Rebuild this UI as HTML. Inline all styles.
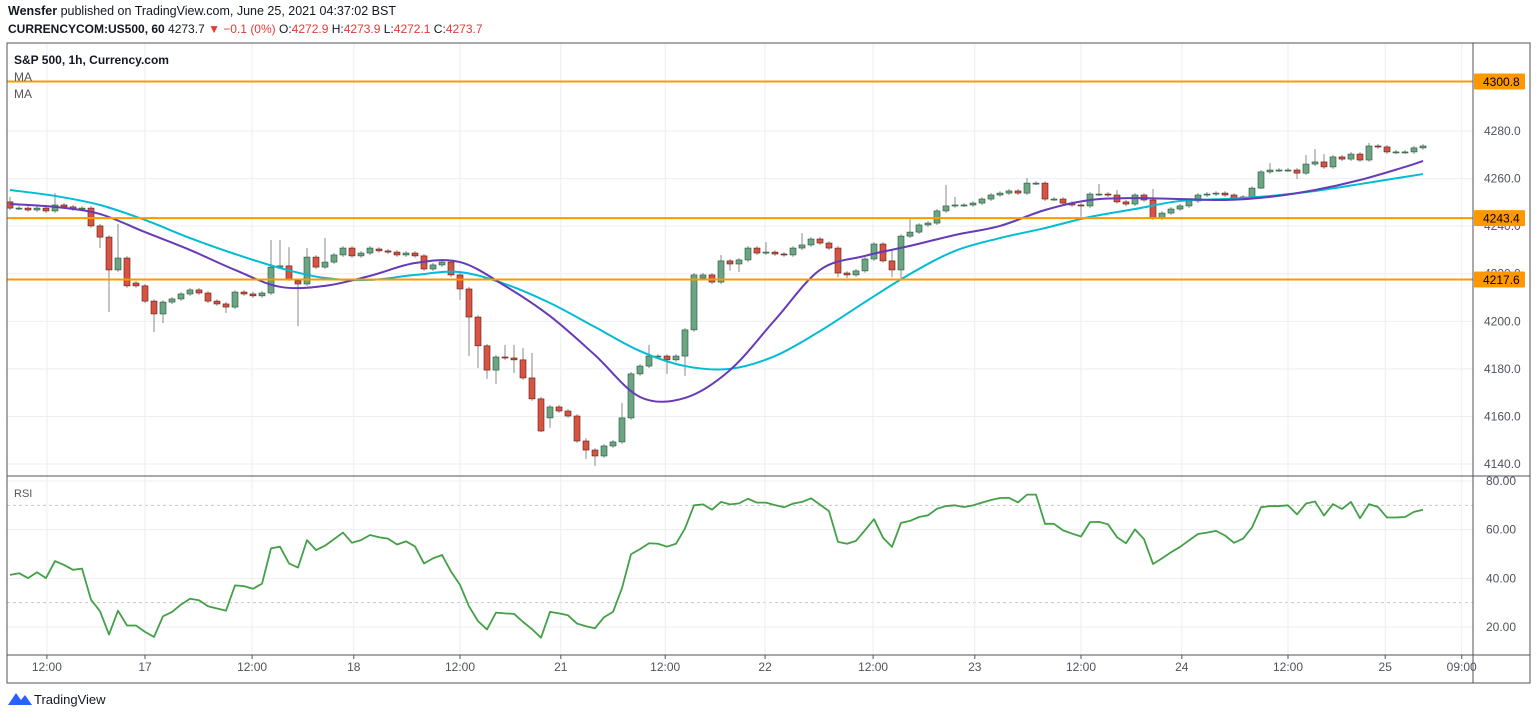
<!DOCTYPE html>
<html><head><meta charset="utf-8"><style>
body{margin:0;background:#fff;width:1536px;height:717px;overflow:hidden;font-family:"Liberation Sans",sans-serif}
svg text{font-family:"Liberation Sans",sans-serif}
</style></head><body>
<svg id="c" width="1536" height="717" viewBox="0 0 1536 717" xmlns="http://www.w3.org/2000/svg">
<text x="8" y="15" font-size="12.5" fill="#131722"><tspan font-weight="bold">Wensfer</tspan> published on TradingView.com, June 25, 2021 04:37:02 BST</text>
<text x="8" y="33" font-size="12" fill="#131722"><tspan font-weight="bold">CURRENCYCOM:US500, 60</tspan> 4273.7 <tspan fill="#e53935">▼ −0.1 (0%)</tspan> O:<tspan fill="#e53935">4272.9</tspan> H:<tspan fill="#e53935">4273.9</tspan> L:<tspan fill="#e53935">4272.1</tspan> C:<tspan fill="#e53935">4273.7</tspan></text>
<g id="grid"></g>
<g id="plots"></g>
<rect x="7" y="43" width="1523" height="640" fill="none" stroke="#50535e" stroke-width="1"/>
<line x1="7" y1="476" x2="1530" y2="476" stroke="#50535e"/>
<line x1="7" y1="655" x2="1530" y2="655" stroke="#50535e"/>
<line x1="1473" y1="43" x2="1473" y2="683" stroke="#50535e"/>
<text x="14" y="64" font-size="12" font-weight="bold" fill="#131722">S&amp;P 500, 1h, Currency.com</text>
<text x="14" y="81" font-size="12" fill="#555">MA</text>
<text x="14" y="98" font-size="12" fill="#555">MA</text>
<text x="14" y="497" font-size="11" fill="#555">RSI</text>
<g id="axes"></g>
<g>
<path d="M8 705 L16 693 L21 700 L25 695 L32 705 Z" fill="#2962ff"/>
<text x="34" y="704" font-size="13" fill="#131722">TradingView</text>
</g>
</svg>
<script>
const closes=[4247.6,4247.6,4246.8,4247.6,4246.4,4248.9,4248.1,4247.2,4247.6,4240.1,4235.4,4221.6,4226.6,4214.9,4214.9,4208.5,4203.1,4208.1,4209.4,4211.5,4213.2,4211.9,4208.5,4207.3,4206.0,4212.3,4211.5,4210.7,4211.9,4222.8,4223.3,4217.8,4215.7,4227.0,4222.8,4224.9,4227.9,4230.8,4227.5,4228.7,4230.8,4229.6,4229.1,4227.9,4228.7,4227.5,4222.0,4223.7,4224.9,4219.5,4213.6,4201.8,4189.7,4179.5,4185.0,4184.6,4183.8,4176.2,4167.4,4153.9,4164.0,4162.3,4160.2,4149.7,4145.9,4143.4,4147.6,4149.3,4159.4,4177.9,4181.2,4185.4,4185.4,4183.8,4185.4,4196.4,4219.5,4219.5,4216.5,4225.4,4224.1,4225.8,4230.8,4228.7,4229.1,4228.3,4227.9,4230.8,4232.1,4234.6,4232.9,4230.8,4220.3,4219.5,4221.2,4226.2,4232.5,4225.4,4221.6,4235.8,4237.5,4240.5,4241.3,4246.4,4248.5,4248.9,4248.9,4249.7,4251.4,4253.1,4253.9,4254.8,4253.9,4258.1,4258.1,4251.4,4251.4,4249.7,4248.9,4248.5,4253.5,4253.5,4253.1,4250.2,4249.3,4253.1,4251.0,4243.4,4245.5,4247.2,4248.5,4250.6,4253.1,4253.5,4253.9,4253.1,4251.8,4252.3,4256.0,4262.8,4263.6,4263.6,4263.6,4262.3,4266.1,4267.0,4264.9,4269.1,4268.2,4270.3,4267.8,4273.7,4273.3,4271.2,4271.2,4271.2,4272.9,4273.7];
const openOverrides={0:4250.2,14:4216.1,32:4217.0,41:4230.4,60:4159.4,77:4218.2};
const highOverrides={0:4252.3,5:4253.9,12:4240.9,29:4234.2,30:4234.2,31:4231.2,33:4230.8,35:4235.0,55:4190.1,56:4190.1,57:4188.8,58:4186.7,64:4150.9,68:4165.7,71:4190.1,76:4220.3,79:4227.9,84:4233.3,88:4237.1,96:4233.3,98:4230.0,100:4243.0,104:4257.3,105:4252.3,113:4260.2,121:4257.7,123:4255.2,127:4255.6,140:4266.5,144:4269.9,145:4272.4,146:4270.3,151:4275.0};
const lowOverrides={10:4230.8,11:4203.9,16:4195.5,17:4199.3,24:4203.5,32:4198.0,50:4209.0,51:4185.4,52:4180.4,53:4175.8,54:4173.7,56:4178.3,59:4153.5,60:4155.2,64:4142.1,65:4139.2,73:4177.9,75:4177.0,80:4221.2,81:4220.7,82:4224.9,92:4218.6,93:4218.2,98:4218.6,99:4218.2,119:4243.9,127:4242.6,139:4255.6,143:4259.8};
const maSampleIdx=[0,5,10,15,20,25,30,35,40,45,50,55,60,65,70,75,80,85,90,95,100,105,110,115,120,125,130,135,140,145,150,155,157];
const maFast=[4249.3,4248.1,4245.1,4237.5,4230.0,4221.6,4214.5,4214.9,4219.1,4224.5,4224.9,4214.9,4202.2,4185.8,4168.2,4167.8,4179.5,4200.6,4221.6,4227.5,4231.7,4236.3,4240.1,4246.8,4251.0,4251.8,4251.4,4251.0,4252.3,4255.2,4259.4,4264.9,4267.4];
const maSlow=[4255.2,4252.7,4248.9,4242.6,4235.0,4228.3,4222.4,4218.2,4217.4,4219.5,4220.7,4215.7,4207.7,4197.6,4187.5,4181.2,4180.0,4185.4,4195.9,4208.1,4219.9,4229.6,4235.0,4239.2,4243.9,4247.2,4250.6,4251.4,4252.7,4254.8,4257.7,4260.7,4261.9];
const rsi=[41.4,42.1,40.1,42.5,40.1,47.1,45.5,43.5,44.0,31.2,26.5,16.9,26.7,20.6,20.6,18.0,15.9,24.4,26.2,29.2,31.6,31.0,28.5,27.6,26.7,37.1,36.8,35.7,37.8,52.3,53.0,46.1,44.4,55.7,51.6,53.4,56.1,58.8,54.6,55.7,57.8,56.9,56.3,53.9,55.2,53.1,46.1,48.2,49.6,42.8,37.3,28.5,22.4,19.0,25.9,25.6,25.4,22.1,19.1,15.6,26.2,25.6,24.8,21.4,20.3,19.5,24.0,26.2,36.0,49.9,52.0,54.4,54.2,53.0,54.2,60.5,70.0,70.4,68.2,71.4,70.4,70.8,72.7,71.1,71.1,70.1,69.2,70.7,71.4,72.9,70.3,67.6,55.0,54.2,55.4,59.8,64.3,56.7,52.9,62.8,63.6,65.2,65.9,68.6,69.7,70.0,69.3,70.0,71.1,72.2,73.0,73.1,71.2,74.4,74.4,62.4,62.4,59.7,58.4,57.2,63.1,63.2,62.2,56.9,54.4,60.1,56.1,45.9,48.2,50.7,52.9,55.6,58.2,58.8,59.5,57.6,54.6,56.3,60.9,69.2,69.7,69.7,70.0,66.3,70.7,71.6,65.8,70.5,68.5,71.4,64.7,70.5,69.3,65.0,65.0,65.2,67.3,68.2];
const priceTicks=[4280,4260,4240,4220,4200,4180,4160,4140];
const rsiTicks=[80,60,40,20];
const levels=[4300.8,4243.4,4217.6];
const timeLabels=["12:00","17","12:00","18","12:00","21","12:00","22","12:00","23","12:00","24","12:00","25","09:00"];
const timeIdx=[4.1,15,26.9,38.2,50,61.2,72.8,83.9,95.9,107.2,119,130.2,142,152.8,161.3];

const NS="http://www.w3.org/2000/svg";
const xOf=i=>10+i*9.0;
const yP=p=>131+(4280-p)*2.379;
const yR=v=>481+(80-v)*2.433;
function mk(tag,attrs,parent){const e=document.createElementNS(NS,tag);for(const k in attrs)e.setAttribute(k,attrs[k]);parent.appendChild(e);return e;}
const grid=document.getElementById('grid'),plots=document.getElementById('plots'),axes=document.getElementById('axes');

priceTicks.forEach(t=>{
  const l=mk('line',{x1:7,x2:1473,y1:yP(t),y2:yP(t),stroke:'#eceef2'},grid);
  
  
  const tx=mk('text',{x:1484,y:yP(t)+4,'font-size':12,fill:'#50535e'},axes);tx.textContent=t.toFixed(1);
  
  
});
rsiTicks.forEach(t=>{
  const l=mk('line',{x1:7,x2:1473,y1:yR(t),y2:yR(t),stroke:'#eceef2'},grid);
  
  
  const tx=mk('text',{x:1486,y:yR(t)+4,'font-size':12,fill:'#50535e'},axes);tx.textContent=t.toFixed(2);
  
  
});
[70,30].forEach(t=>{
  const l=mk('line',{x1:7,x2:1473,y1:yR(t),y2:yR(t),stroke:'#c8c8c8','stroke-dasharray':'3,3'},grid);
  
  
});
timeIdx.forEach((ti,k)=>{
  const x=xOf(ti);
  if(x<1470){const l=mk('line',{x1:x,x2:x,y1:43,y2:655,stroke:'#eceef2'},grid);
  
  }
  mk('line',{x1:x,x2:x,y1:655,y2:659,stroke:'#50535e'},axes);
  const tx=mk('text',{x:x,y:671,'font-size':12,fill:'#50535e','text-anchor':'middle'},axes);tx.textContent=timeLabels[k];
  
  
});

// candles
closes.forEach((c,i)=>{
  const o=(i in openOverrides)?openOverrides[i]:(i>0?closes[i-1]:c);
  const hi=(i in highOverrides)?highOverrides[i]:Math.max(o,c)+0.8;
  const lo=(i in lowOverrides)?lowOverrides[i]:Math.min(o,c)-0.8;
  const up=c>=o,x=xOf(i);
  const g=mk('g',{},plots);
  
  
  mk('line',{x1:x,x2:x,y1:yP(hi),y2:yP(lo),stroke:'#8a8a8a','stroke-width':1},g);
  const top=yP(Math.max(o,c)),h=Math.max(1,yP(Math.min(o,c))-top);
  mk('rect',{x:x-3,y:top,width:6,height:h,fill:up?'#6ba583':'#d75442',stroke:up?'#225437':'#5b1a13','stroke-width':0.6},g);
});

function smooth(pts){let d='M'+pts[0][0]+' '+pts[0][1];for(let i=0;i<pts.length-1;i++){const p0=pts[i-1]||pts[i],p1=pts[i],p2=pts[i+1],p3=pts[i+2]||p2;
 d+=` C${p1[0]+(p2[0]-p0[0])/6} ${p1[1]+(p2[1]-p0[1])/6} ${p2[0]-(p3[0]-p1[0])/6} ${p2[1]-(p3[1]-p1[1])/6} ${p2[0]} ${p2[1]}`;}return d;}
const slowPath=mk('path',{d:smooth(maSampleIdx.map((ix,k)=>[xOf(ix),yP(maSlow[k])])),fill:'none',stroke:'#00bcd4','stroke-width':2},plots);


const fastPath=mk('path',{d:smooth(maSampleIdx.map((ix,k)=>[xOf(ix),yP(maFast[k])])),fill:'none',stroke:'#673ab7','stroke-width':2},plots);



levels.forEach(lv=>{
  const y=yP(lv);
  const l=mk('line',{x1:7,x2:1473,y1:y,y2:y,stroke:'#ff9800','stroke-width':2},plots);
  
  
  const r=mk('rect',{x:1474,y:y-8,width:51,height:16,fill:'#ff9800',rx:1},axes);
  
  
  const t=mk('text',{x:1483,y:y+4.5,'font-size':12,fill:'#000'},axes);t.textContent=lv.toFixed(1);
  
  
});

const rp=mk('polyline',{points:rsi.map((v,i)=>xOf(i)+','+yR(v)).join(' '),fill:'none',stroke:'#43a047','stroke-width':1.8,'stroke-linejoin':'round'},plots);


</script>
</body></html>
